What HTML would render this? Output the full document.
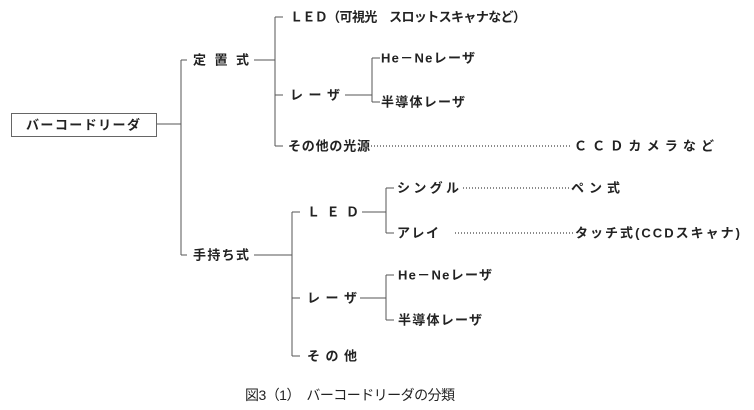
<!DOCTYPE html>
<html><head><meta charset="utf-8"><style>
html,body{margin:0;padding:0;background:#fff;}
svg{display:block;}
text{font-family:"Liberation Sans","Noto Sans CJK JP",sans-serif;font-size:13px;font-weight:bold;fill:#222;dominant-baseline:central;}
.l{stroke:#555;stroke-width:1;fill:none;}
.d{stroke:#444;stroke-width:1.2;stroke-dasharray:1 2;fill:none;}
</style></head><body>
<svg width="754" height="410" viewBox="0 0 754 410" xmlns="http://www.w3.org/2000/svg">
<rect x="11.5" y="113.5" width="145" height="23" fill="#fff" stroke="#666"/>
<text x="26" y="125" textLength="114" lengthAdjust="spacing">バーコードリーダ</text>
<path class="l" d="M157 124H181M181 60V255M181 60H187M181 255H187"/>
<text x="193" y="60" textLength="56" lengthAdjust="spacing">定 置 式</text>
<path class="l" d="M254 60H275M275 17V146M275 17H283M275 95H283M275 146H283"/>
<text x="290" y="17" textLength="236" lengthAdjust="spacing">ＬＥＤ（可視光　スロットスキャナなど）</text>
<text x="290" y="95" textLength="50" lengthAdjust="spacing">レ ー ザ</text>
<path class="l" d="M345 95H372M372 58V102M372 58H380M372 102H380"/>
<text x="381" y="58" textLength="94" lengthAdjust="spacing">He－Neレーザ</text>
<text x="381" y="102" textLength="84" lengthAdjust="spacing">半導体レーザ</text>
<text x="288" y="146" textLength="82" lengthAdjust="spacing">その他の光源</text>
<path class="d" d="M371 146H570"/>
<text x="574" y="146" textLength="140" lengthAdjust="spacing">ＣＣＤカメラなど</text>
<text x="193" y="255" textLength="56" lengthAdjust="spacing">手持ち式</text>
<path class="l" d="M254 255H292M292 212V356M292 212H300M292 298H300M292 356H300"/>
<text x="307" y="212" textLength="52" lengthAdjust="spacing">Ｌ Ｅ Ｄ</text>
<path class="l" d="M362 212H386M386 188V233M386 188H394M386 233H394"/>
<text x="397" y="188" textLength="62" lengthAdjust="spacing">シングル</text>
<path class="d" d="M463 188H570"/>
<text x="571" y="188" textLength="49" lengthAdjust="spacing">ペン式</text>
<text x="397" y="233" textLength="42" lengthAdjust="spacing">アレイ</text>
<path class="d" d="M455 233H574"/>
<text x="575" y="233" textLength="165" lengthAdjust="spacing">タッチ式(CCDスキャナ)</text>
<text x="307" y="298" textLength="50" lengthAdjust="spacing">レ ー ザ</text>
<path class="l" d="M360 298H386M386 275V320M386 275H394M386 320H394"/>
<text x="398" y="275" textLength="94" lengthAdjust="spacing">He－Neレーザ</text>
<text x="398" y="320" textLength="84" lengthAdjust="spacing">半導体レーザ</text>
<text x="307" y="356" textLength="50" lengthAdjust="spacing">そ の 他</text>
<text x="245" y="395" textLength="210" lengthAdjust="spacing" style="font-weight:normal;font-size:14px">図3（1）　バーコードリーダの分類</text>
</svg>
</body></html>
